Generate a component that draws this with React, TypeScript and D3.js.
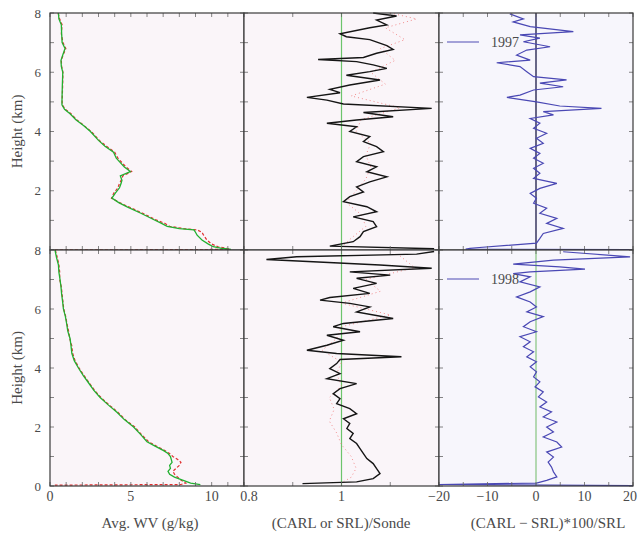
import React from "react";
import * as d3 from "d3";

// Height in km, value pairs
const heightTicks = [0, 2, 4, 6, 8];
const wvTicks = [0, 5, 10];
const ratioTicks = [0.8, 1];
const diffTicks = [-20, -10, 0, 10, 20];
const years = ["1997", "1998"];

// Avg. WV (g/kg), 1997
const wvSrl97: [number, number][] = [
  [8.0, 0.52], [7.8, 0.55], [7.6, 0.7], [7.3, 0.72], [7.0, 0.75], [6.8, 0.93], [6.6, 0.8],
  [6.4, 0.68], [6.2, 0.7], [6.0, 0.79], [5.5, 0.76], [5.0, 0.74], [4.9, 0.74], [4.75, 0.9],
  [4.6, 1.24], [4.4, 1.6], [4.2, 2.07], [4.0, 2.5], [3.7, 3.0], [3.5, 3.4], [3.3, 3.93],
  [3.1, 4.1], [2.95, 4.35], [2.8, 4.6], [2.65, 4.97], [2.5, 4.35], [2.35, 4.45], [2.25, 4.4],
  [2.1, 4.3], [1.92, 4.04], [1.75, 3.83], [1.6, 4.25], [1.45, 4.8], [1.25, 5.59], [1.03, 6.4],
  [0.9, 6.9], [0.8, 7.25], [0.72, 8.0], [0.68, 8.9], [0.6, 9.0], [0.5, 9.1], [0.34, 9.4],
  [0.2, 9.8], [0.11, 10.1], [0.05, 10.7], [0.02, 11.2]
];
const wvCarl97: [number, number][] = [
  [8.0, 0.5], [7.8, 0.6], [7.6, 0.75], [7.3, 0.7], [7.0, 0.8], [6.8, 0.98], [6.6, 0.82],
  [6.4, 0.7], [6.2, 0.72], [6.0, 0.8], [5.5, 0.78], [5.0, 0.75], [4.9, 0.76], [4.75, 0.95],
  [4.6, 1.3], [4.4, 1.65], [4.2, 2.1], [4.0, 2.55], [3.7, 3.05], [3.5, 3.5], [3.3, 4.0],
  [3.1, 4.2], [2.95, 4.45], [2.8, 4.7], [2.65, 5.05], [2.5, 4.5], [2.35, 4.4], [2.25, 4.3],
  [2.1, 4.2], [1.92, 3.95], [1.75, 3.8], [1.6, 4.3], [1.45, 4.9], [1.25, 5.7], [1.03, 6.5],
  [0.9, 7.1], [0.8, 7.4], [0.72, 8.3], [0.68, 9.1], [0.6, 9.4], [0.5, 9.5], [0.34, 9.7],
  [0.2, 10.0], [0.11, 10.4], [0.05, 11.0], [0.02, 11.1], [0.0, 0.2]
];

// Avg. WV (g/kg), 1998
const wvSrl98: [number, number][] = [
  [8.0, 0.31], [7.75, 0.4], [7.5, 0.52], [7.25, 0.55], [7.0, 0.62], [6.75, 0.68], [6.5, 0.72],
  [6.25, 0.78], [6.0, 0.83], [5.75, 0.95], [5.5, 1.03], [5.25, 1.1], [5.0, 1.24], [4.75, 1.3],
  [4.5, 1.35], [4.25, 1.5], [4.0, 1.76], [3.75, 2.05], [3.5, 2.38], [3.25, 2.7], [3.0, 3.1],
  [2.75, 3.6], [2.5, 4.14], [2.25, 4.6], [2.0, 5.17], [1.75, 5.6], [1.5, 6.0], [1.35, 6.5],
  [1.2, 7.03], [1.1, 7.3], [1.0, 7.45], [0.9, 7.5], [0.8, 7.55], [0.7, 7.4], [0.6, 7.45],
  [0.5, 7.3], [0.4, 7.4], [0.3, 7.7], [0.2, 8.2], [0.1, 8.7], [0.05, 9.3]
];
const wvCarl98: [number, number][] = [
  [8.0, 0.33], [7.75, 0.45], [7.5, 0.55], [7.25, 0.6], [7.0, 0.6], [6.75, 0.7], [6.5, 0.75],
  [6.25, 0.8], [6.0, 0.85], [5.75, 0.97], [5.5, 1.05], [5.25, 1.15], [5.0, 1.22], [4.75, 1.35],
  [4.5, 1.4], [4.25, 1.55], [4.0, 1.8], [3.75, 2.1], [3.5, 2.42], [3.25, 2.75], [3.0, 3.15],
  [2.75, 3.65], [2.5, 4.2], [2.25, 4.65], [2.0, 5.25], [1.75, 5.65], [1.5, 6.1], [1.35, 6.6],
  [1.2, 7.1], [1.1, 7.4], [1.0, 7.6], [0.9, 7.9], [0.8, 8.1], [0.7, 8.0], [0.6, 7.8],
  [0.5, 7.6], [0.4, 7.7], [0.3, 7.9], [0.2, 8.1], [0.1, 8.4], [0.05, 8.1], [0.03, 0.3]
];

// (CARL or SRL)/Sonde, 1997
const carlRatio97: [number, number][] = [
  [8.0, 1.065], [7.9, 1.113], [7.76, 1.072], [7.6, 1.093], [7.5, 1.058], [7.3, 0.997],
  [7.2, 1.01], [7.1, 1.058], [6.9, 1.093], [6.77, 1.106], [6.64, 1.072], [6.5, 1.045],
  [6.43, 0.952], [6.36, 1.031], [6.25, 1.065], [6.13, 1.093], [6.02, 1.058], [5.9, 1.01],
  [5.74, 1.079], [5.57, 1.017], [5.42, 0.976], [5.31, 0.997], [5.15, 0.929], [5.06, 0.97],
  [4.93, 1.004], [4.78, 1.185], [4.64, 1.045], [4.5, 1.106], [4.39, 1.031], [4.28, 0.97],
  [4.16, 1.031], [4.0, 1.017], [3.83, 1.058], [3.66, 1.045], [3.49, 1.072], [3.32, 1.086],
  [3.15, 1.045], [2.98, 1.031], [2.81, 1.072], [2.64, 1.052], [2.47, 1.093], [2.3, 1.058],
  [2.13, 1.031], [1.96, 1.045], [1.8, 1.017], [1.63, 1.004], [1.46, 1.052], [1.29, 1.072],
  [1.12, 1.024], [0.96, 1.065], [0.79, 1.072], [0.62, 1.045], [0.45, 1.038], [0.28, 1.024],
  [0.13, 0.976], [0.04, 1.19]
];
const srlRatio97: [number, number][] = [
  [8.0, 1.1], [7.8, 1.154], [7.5, 1.09], [7.1, 1.13], [6.8, 1.08], [6.4, 1.11], [6.0, 1.06],
  [5.6, 1.09], [5.2, 1.02], [4.8, 1.12], [4.4, 1.04], [4.0, 1.03], [3.6, 1.06], [3.2, 1.05],
  [2.8, 1.06], [2.4, 1.05], [2.0, 1.03], [1.6, 1.01], [1.2, 1.04], [0.8, 1.05], [0.4, 1.02],
  [0.1, 1.0]
];

// (CARL or SRL)/Sonde, 1998
const carlRatio98: [number, number][] = [
  [7.95, 1.19], [7.86, 1.154], [7.77, 0.908], [7.68, 0.846], [7.6, 0.942], [7.49, 1.079],
  [7.38, 1.185], [7.26, 1.017], [7.15, 1.1], [7.04, 1.031], [6.87, 1.072], [6.7, 1.024],
  [6.53, 1.058], [6.39, 0.976], [6.3, 0.956], [6.19, 1.017], [6.07, 1.058], [5.9, 1.031],
  [5.68, 1.106], [5.51, 1.004], [5.4, 0.983], [5.23, 1.038], [5.11, 0.97], [4.94, 1.004],
  [4.77, 0.97], [4.6, 0.929], [4.49, 0.99], [4.38, 1.123], [4.29, 0.997], [4.15, 0.99],
  [3.98, 0.976], [3.81, 0.997], [3.64, 0.97], [3.47, 1.031], [3.3, 0.997], [3.13, 0.983],
  [2.96, 0.997], [2.79, 0.99], [2.62, 1.017], [2.45, 1.031], [2.28, 1.004], [2.12, 1.017],
  [1.95, 1.011], [1.78, 1.024], [1.61, 1.017], [1.44, 1.031], [1.27, 1.038], [1.1, 1.045],
  [0.93, 1.052], [0.76, 1.065], [0.59, 1.072], [0.42, 1.079], [0.25, 1.065], [0.14, 1.031],
  [0.08, 0.92]
];
const srlRatio98: [number, number][] = [
  [7.8, 1.12], [7.4, 1.15], [7.0, 1.05], [6.6, 1.08], [6.2, 1.0], [5.8, 1.1], [5.4, 1.0],
  [5.0, 0.99], [4.6, 0.96], [4.2, 1.0], [3.8, 0.99], [3.4, 1.0], [3.0, 0.975], [2.6, 0.985],
  [2.2, 0.975], [1.8, 0.99], [1.4, 1.0], [1.0, 1.02], [0.6, 1.03], [0.3, 1.02], [0.1, 1.0]
];

// (CARL - SRL)*100/SRL
const diff97: [number, number][] = [
  [7.97, -5.4], [7.8, -2.6], [7.7, -4.7], [7.54, -1.2], [7.37, 7.7], [7.26, -3.3], [7.15, 0.8],
  [7.03, -2.6], [6.86, 2.9], [6.75, -1.9], [6.58, -4.0], [6.41, -1.2], [6.32, -8.1], [6.19, -3.3],
  [6.02, -1.9], [5.85, -0.5], [5.74, 6.3], [5.63, 0.8], [5.51, 5.6], [5.4, -0.5], [5.23, -3.3],
  [5.15, -6.0], [5.0, 0.1], [4.86, 4.9], [4.78, 13.5], [4.67, 1.5], [4.56, 3.6], [4.44, -1.2],
  [4.28, 0.8], [4.11, -0.5], [3.94, 2.2], [3.77, 0.1], [3.6, 1.5], [3.43, -1.2], [3.26, 0.8],
  [3.1, -0.5], [2.93, 1.5], [2.76, -0.5], [2.59, 0.8], [2.42, -0.5], [2.25, 4.3], [2.08, 0.8],
  [1.91, -1.2], [1.75, 0.1], [1.58, -0.5], [1.41, 2.2], [1.24, 0.8], [1.07, 4.3], [0.9, 2.2],
  [0.73, 5.6], [0.56, 1.5], [0.39, 0.8], [0.23, 0.1], [0.06, -13.6], [0.03, -14.5], [0.01, 20]
];
const diff98: [number, number][] = [
  [7.94, 5.6], [7.77, 19.4], [7.66, 3.6], [7.52, -4.7], [7.43, 4.9], [7.35, 10.1], [7.26, -1.2],
  [7.2, -4.7], [7.09, -1.2], [6.92, -3.3], [6.75, 0.8], [6.58, -1.2], [6.41, -4.0], [6.24, -1.2],
  [6.07, 0.1], [5.9, -1.9], [5.74, 1.5], [5.57, -1.2], [5.4, -2.6], [5.23, 0.1], [5.06, -3.3],
  [4.89, -1.2], [4.72, -2.6], [4.55, -0.5], [4.38, -1.9], [4.21, 0.1], [4.04, -1.2], [3.87, 0.1],
  [3.7, -0.5], [3.53, 0.8], [3.36, -0.2], [3.19, 1.5], [3.02, 0.5], [2.85, 2.2], [2.68, 0.8],
  [2.51, 3.2], [2.34, 1.5], [2.17, 4.3], [2.0, 2.2], [1.83, 3.6], [1.66, 1.5], [1.49, 4.3],
  [1.32, 5.3], [1.15, 2.2], [0.98, 3.6], [0.81, 2.5], [0.64, 3.2], [0.48, 3.6], [0.31, 4.3],
  [0.19, 2.2], [0.1, 0.1], [0.05, -20], [0.01, 20]
];

const cols = [
  { x0: 50, x1: 244, domain: [0, 12], minor: 1 },
  { x0: 244, x1: 439, domain: [0.8, 1.2], minor: 0.1 },
  { x0: 439, x1: 633, domain: [-20, 20], minor: 5 }
];
const rows = [
  { y0: 13, y1: 250 },
  { y0: 250, y1: 486 }
];

const font = "'Liberation Serif', 'DejaVu Serif', serif";
const inkColor = "#4a4a4a";

function Panel({ col, row, children }: { col: number; row: number; children?: React.ReactNode }) {
  const c = cols[col];
  const r = rows[row];
  const x = d3.scaleLinear().domain(c.domain).range([c.x0, c.x1]);
  const y = d3.scaleLinear().domain([0, 8]).range([r.y1, r.y0]);
  const xMinor = d3.range(c.domain[0], c.domain[1] + 1e-9, c.minor);
  const yMinor = d3.range(0, 8.001, 1);
  return (
    <g>
      <rect x={c.x0} y={r.y0} width={c.x1 - c.x0} height={r.y1 - r.y0} fill={col === 2 ? "#f7f6fc" : "#faf5f9"} />
      {children}
      {xMinor.map((v, i) => (
        <g key={"xt" + i} stroke="#666" strokeWidth={0.8}>
          <line x1={x(v)} x2={x(v)} y1={r.y1} y2={r.y1 - 4} />
          <line x1={x(v)} x2={x(v)} y1={r.y0} y2={r.y0 + 4} />
        </g>
      ))}
      {yMinor.map((v, i) => (
        <g key={"yt" + i} stroke="#666" strokeWidth={0.8}>
          <line x1={c.x0} x2={c.x0 + 4} y1={y(v)} y2={y(v)} />
          <line x1={c.x1} x2={c.x1 - 4} y1={y(v)} y2={y(v)} />
        </g>
      ))}
      <rect x={c.x0} y={r.y0} width={c.x1 - c.x0} height={r.y1 - r.y0} fill="none" stroke="#3a3a3a" strokeWidth={1.2} />
    </g>
  );
}

function profilePath(data: [number, number][], col: number, row: number) {
  const c = cols[col];
  const r = rows[row];
  const x = d3.scaleLinear().domain(c.domain).range([c.x0, c.x1]);
  const y = d3.scaleLinear().domain([0, 8]).range([r.y1, r.y0]);
  return d3.line<[number, number]>().x(d => x(d[1])).y(d => y(d[0]))(data) || "";
}

export default function App() {
  const wvX = d3.scaleLinear().domain(cols[0].domain).range([cols[0].x0, cols[0].x1]);
  const ratioX = d3.scaleLinear().domain(cols[1].domain).range([cols[1].x0, cols[1].x1]);
  const diffX = d3.scaleLinear().domain(cols[2].domain).range([cols[2].x0, cols[2].x1]);
  const yTop = d3.scaleLinear().domain([0, 8]).range([rows[0].y1, rows[0].y0]);
  const yBot = d3.scaleLinear().domain([0, 8]).range([rows[1].y1, rows[1].y0]);

  const wvSets = [[wvSrl97, wvCarl97], [wvSrl98, wvCarl98]];
  const ratioSets = [[carlRatio97, srlRatio97], [carlRatio98, srlRatio98]];
  const diffSets = [diff97, diff98];

  return (
    <svg width={642} height={533}
      style={{ display: "block", position: "absolute", left: 0, top: 0, background: "#fff" }}>
      {rows.map((_, ri) => (
        <g key={"row" + ri}>
          <Panel col={0} row={ri}>
            <path d={profilePath(wvSets[ri][1], 0, ri)} fill="none" stroke="#e03030" strokeWidth={1.2} strokeDasharray="3,2" />
            <path d={profilePath(wvSets[ri][0], 0, ri)} fill="none" stroke="#22b030" strokeWidth={1.3} />
          </Panel>
          <Panel col={1} row={ri}>
            <line x1={ratioX(1)} x2={ratioX(1)} y1={rows[ri].y0} y2={rows[ri].y1} stroke="#6cc46c" strokeWidth={1.2} />
            <path d={profilePath(ratioSets[ri][1], 1, ri)} fill="none" stroke="#f07070" strokeWidth={0.8} strokeDasharray="1,3" />
            <path d={profilePath(ratioSets[ri][0], 1, ri)} fill="none" stroke="#151515" strokeWidth={1.4} />
          </Panel>
          <Panel col={2} row={ri}>
            <line x1={diffX(0)} x2={diffX(0)} y1={rows[ri].y0} y2={rows[ri].y1}
              stroke={ri === 0 ? "#2a2a55" : "#7cbf74"} strokeWidth={ri === 0 ? 1.4 : 1.1} />
            <path d={profilePath(diffSets[ri], 2, ri)} fill="none" stroke="#4a48b4" strokeWidth={1.2} />
            <line x1={447} x2={479} y1={ri === 0 ? 42 : 279} y2={ri === 0 ? 42 : 279} stroke="#6a68c0" strokeWidth={1.2} />
            <text x={491} y={ri === 0 ? 47 : 284} fontFamily={font} fontSize={14} fill={inkColor}>{years[ri]}</text>
          </Panel>
        </g>
      ))}

      {/* height tick labels */}
      {heightTicks.filter(t => t > 0).map(t => (
        <text key={"ht" + t} x={41} y={yTop(t) + 4.5} textAnchor="end" fontFamily={font} fontSize={13} fill={inkColor}>{t}</text>
      ))}
      {heightTicks.map(t => (
        <text key={"hb" + t} x={41} y={yBot(t) + 4.5} textAnchor="end" fontFamily={font} fontSize={13} fill={inkColor}>{t}</text>
      ))}
      <text transform={`translate(22,${(rows[0].y0 + rows[0].y1) / 2}) rotate(-90)`} textAnchor="middle" fontFamily={font} fontSize={15} fill={inkColor}>Height (km)</text>
      <text transform={`translate(22,${(rows[1].y0 + rows[1].y1) / 2}) rotate(-90)`} textAnchor="middle" fontFamily={font} fontSize={15} fill={inkColor}>Height (km)</text>

      {/* x tick labels */}
      {wvTicks.map(t => (
        <text key={"wv" + t} x={wvX(t)} y={501} textAnchor="middle" fontFamily={font} fontSize={14} fill={inkColor}>{t}</text>
      ))}
      {ratioTicks.map(t => (
        <text key={"ra" + t} x={ratioX(t) + (t === 0.8 ? 5 : 0)} y={501} textAnchor="middle" fontFamily={font} fontSize={14} fill={inkColor}>{t}</text>
      ))}
      {diffTicks.map(t => (
        <text key={"df" + t} x={diffX(t) - (t === 20 ? 3 : 0)} y={501} textAnchor="middle" fontFamily={font} fontSize={14} fill={inkColor}>{t < 0 ? "\u2212" + Math.abs(t) : t}</text>
      ))}

      <text x={150} y={528} textAnchor="middle" fontFamily={font} fontSize={15} fill={inkColor}>Avg. WV (g/kg)</text>
      <text x={341} y={528} textAnchor="middle" fontFamily={font} fontSize={15} fill={inkColor}>(CARL or SRL)/Sonde</text>
      <text x={548} y={528} textAnchor="middle" fontFamily={font} fontSize={15} fill={inkColor}>(CARL {"\u2212"} SRL)*100/SRL</text>
    </svg>
  );
}
